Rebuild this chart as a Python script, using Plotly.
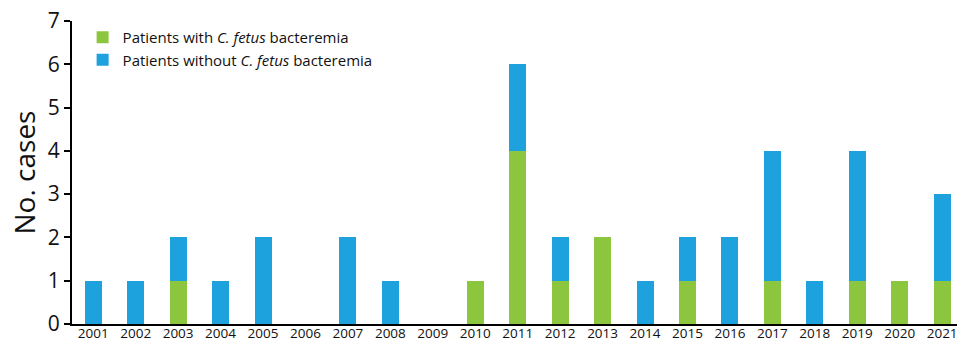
import plotly.graph_objects as go

years = list(range(2001, 2022))
with_bacteremia = [0, 0, 1, 0, 0, 0, 0, 0, 0, 1, 4, 1, 2, 0, 1, 0, 1, 0, 1, 1, 1]
without_bacteremia = [1, 1, 1, 1, 2, 0, 2, 1, 0, 0, 2, 1, 0, 1, 1, 2, 3, 1, 3, 0, 2]
y_ticks = [0, 1, 2, 3, 4, 5, 6, 7]

GREEN = "#8cc63f"
BLUE = "#1ea2de"
FONT = "Open Sans"

fig = go.Figure()
fig.add_trace(go.Bar(
    x=years, y=with_bacteremia, name="Patients with <i>C. fetus</i> bacteremia",
    marker=dict(color=GREEN, line=dict(width=0)), width=0.4,
))
fig.add_trace(go.Bar(
    x=years, y=without_bacteremia, name="Patients without <i>C. fetus</i> bacteremia",
    marker=dict(color=BLUE, line=dict(width=0)), width=0.4,
))

fig.update_layout(
    barmode="stack",
    width=960, height=344,
    margin=dict(l=72, r=3, t=21, b=20),
    plot_bgcolor="white", paper_bgcolor="white",
    font=dict(family=FONT, color="#111"),
    showlegend=True,
    legend=dict(
        x=0.012, y=1.0, xanchor="left", yanchor="top",
        font=dict(size=15, family=FONT, color="#111"),
        bgcolor="rgba(0,0,0,0)", tracegroupgap=0, itemwidth=30,
        traceorder="normal",
    ),
    bargap=0,
)
fig.update_xaxes(
    range=[2000.5, 2021.35], tickvals=years, ticktext=[str(y) for y in years],
    showline=True, linecolor="black", linewidth=2, ticks="",
    tickfont=dict(size=13.5, family=FONT), showgrid=False, zeroline=False,
    ticklabelstandoff=-4, automargin=False,
)
fig.update_yaxes(
    range=[0, 7], tickvals=y_ticks, showline=True, linecolor="black", linewidth=2,
    ticks="outside", ticklen=6, tickwidth=2, tickcolor="black",
    tickfont=dict(size=21, family=FONT), showgrid=False, zeroline=False,
    title=dict(text="No. cases", font=dict(size=28, family=FONT), standoff=4),
    automargin=False,
)

fig.write_html("out.html")
